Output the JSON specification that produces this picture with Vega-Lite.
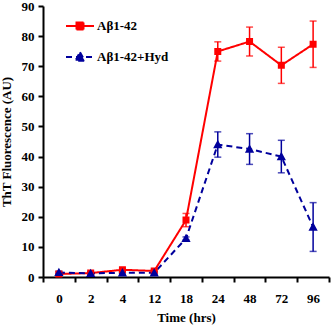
{
  "$schema": "https://vega.github.io/schema/vega-lite/v6.json",
  "width": 286,
  "height": 271,
  "autosize": {"type": "none"},
  "padding": {"left": 43, "top": 6, "right": 2, "bottom": 48},
  "background": "white",
  "config": {
    "view": {"stroke": null},
    "font": "Liberation Serif",
    "axis": {"domainColor": "black", "domainWidth": 2, "tickColor": "black", "tickWidth": 2, "grid": false, "labelFont": "Liberation Serif", "labelFontWeight": "bold", "labelFontSize": 13, "labelColor": "black", "titleFont": "Liberation Serif", "titleFontWeight": "bold", "titleFontSize": 13, "titleColor": "black"}
  },
  "data": {"values": [
    {"time": "0", "series": "Aβ1-42", "value": 1.0, "err": 0.4},
    {"time": "2", "series": "Aβ1-42", "value": 1.3, "err": 0.4},
    {"time": "4", "series": "Aβ1-42", "value": 2.4, "err": 0.4},
    {"time": "12", "series": "Aβ1-42", "value": 2.0, "err": 0.4},
    {"time": "18", "series": "Aβ1-42", "value": 18.9, "err": 2.2},
    {"time": "24", "series": "Aβ1-42", "value": 74.9, "err": 3.2},
    {"time": "48", "series": "Aβ1-42", "value": 78.2, "err": 4.8},
    {"time": "72", "series": "Aβ1-42", "value": 70.3, "err": 6.0},
    {"time": "96", "series": "Aβ1-42", "value": 77.3, "err": 7.7},
    {"time": "0", "series": "Aβ1-42+Hyd", "value": 1.5, "err": 0.4},
    {"time": "2", "series": "Aβ1-42+Hyd", "value": 1.2, "err": 0.4},
    {"time": "4", "series": "Aβ1-42+Hyd", "value": 1.4, "err": 0.4},
    {"time": "12", "series": "Aβ1-42+Hyd", "value": 1.4, "err": 0.4},
    {"time": "18", "series": "Aβ1-42+Hyd", "value": 12.8, "err": 0.5},
    {"time": "24", "series": "Aβ1-42+Hyd", "value": 44.0, "err": 4.2},
    {"time": "48", "series": "Aβ1-42+Hyd", "value": 42.5, "err": 5.1},
    {"time": "72", "series": "Aβ1-42+Hyd", "value": 40.0, "err": 5.4},
    {"time": "96", "series": "Aβ1-42+Hyd", "value": 16.6, "err": 8.1}
  ]},
  "encoding": {
    "x": {"field": "time", "type": "ordinal", "sort": null,
      "scale": {"type": "band", "paddingInner": 0, "paddingOuter": 0},
      "axis": {"title": "Time (hrs)", "labelAngle": 0, "tickBand": "extent", "tickSize": 5, "labelPadding": 10, "titlePadding": 6}},
    "y": {"field": "value", "type": "quantitative",
      "scale": {"domain": [0, 90], "nice": false},
      "axis": {"title": "ThT Fluorescence (AU)", "values": [0,10,20,30,40,50,60,70,80,90], "tickSize": 5, "labelPadding": 4, "titlePadding": 8}},
    "color": {"field": "series", "type": "nominal",
      "scale": {"domain": ["Aβ1-42", "Aβ1-42+Hyd"], "range": ["#ff0000", "#00009c"]},
      "legend": {"title": null, "orient": "none", "legendX": 22, "legendY": 5, "symbolSize": 784, "symbolStrokeWidth": 2, "labelFont": "Liberation Serif", "labelFontWeight": "bold", "labelFontSize": 13, "labelColor": "black", "labelOffset": 2, "rowPadding": 8,
        "encode": {"symbols": {"update": {"fill": {"scale": "color", "field": "value"}, "stroke": {"scale": "color", "field": "value"}, "opacity": {"value": 1}}}}}
    }
  },
  "layer": [
    {"mark": {"type": "errorbar", "ticks": {"size": 7, "thickness": 1.5}, "thickness": 1.5},
     "encoding": {"yError": {"field": "err"}}},
    {"mark": {"type": "line", "strokeWidth": 2},
     "encoding": {"strokeDash": {"field": "series", "type": "nominal", "scale": {"domain": ["Aβ1-42", "Aβ1-42+Hyd"], "range": [[1, 0], [6, 4]]}}}},
    {"mark": {"type": "point", "filled": true, "strokeWidth": 0, "opacity": 1, "size": 784},
     "encoding": {"shape": {"field": "series", "type": "nominal", "scale": {"domain": ["Aβ1-42", "Aβ1-42+Hyd"], "range": ["M-1,0H1M-0.25,-0.25H0.25V0.25H-0.25Z", "M-1,0H1M0,-0.34L0.33,0.26H-0.33Z"]}}}}
  ]
}
